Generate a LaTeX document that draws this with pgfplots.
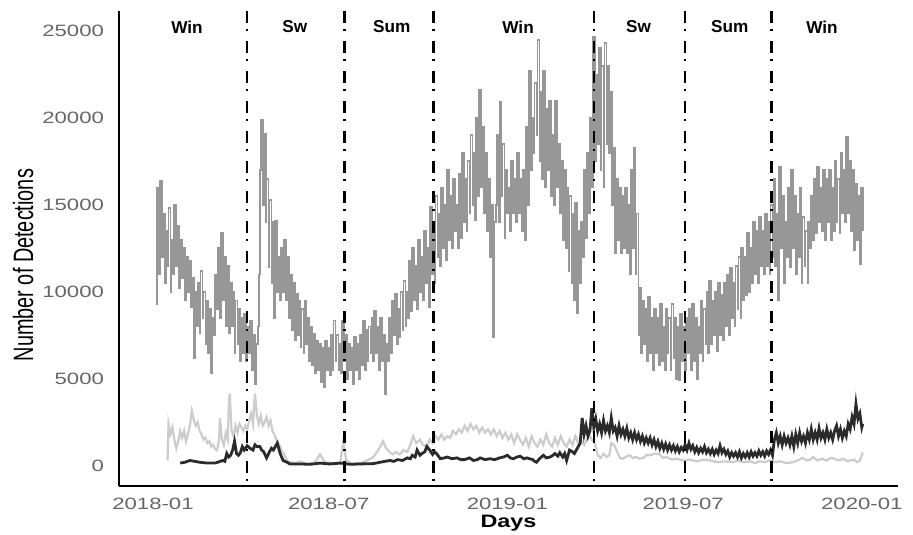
\documentclass[border=0pt]{standalone}
\usepackage{fontspec}
\setmainfont{Liberation Sans}
\newfontfamily\tickfont[FakeStretch=1.35]{Liberation Sans}
\newfontfamily\ylabfont[FakeStretch=0.71]{Liberation Sans}
\newfontfamily\xlabfont[FakeStretch=1.3]{Liberation Sans}
\usepackage{pgfplots}
\pgfplotsset{compat=1.18}
\definecolor{mygray}{HTML}{979797}
\definecolor{mylight}{HTML}{CCCCCC}
\definecolor{mydark}{HTML}{2B2B2B}
\definecolor{ticktext}{HTML}{666666}
\begin{document}
\begin{tikzpicture}
\useasboundingbox (-59.5pt,-24pt) rectangle (397pt,243pt);
\begin{axis}[
 scale only axis, width=389.5pt, height=237.5pt,
 xmin=-35, xmax=767.3, ymin=-1167, ymax=26150,
 axis x line=bottom, axis y line=left,
 axis line style={-, line width=1pt, black},
 major tick length=0pt,
 xtick={0,181,365,546,730}, xticklabels={2018-01,2018-07,2019-01,2019-07,2020-01},
 ytick={0,5000,10000,15000,20000,25000}, yticklabels={0,5000,10000,15000,20000,25000},
 /pgf/number format/assume math mode=true,
 ticklabel style={font=\tickfont\fontsize{8.2}{9}\selectfont, text=ticktext},
 xticklabel style={yshift=-2.5pt},
 yticklabel style={xshift=-4pt},
 xlabel={Days}, ylabel={Number of Detections},
 xlabel style={font=\xlabfont\bfseries\fontsize{9}{10}\selectfont, at={([yshift=-18.5pt]axis description cs:0.5,0)}, anchor=center},
 ylabel style={font=\ylabfont\fontsize{14}{15}\selectfont, at={([xshift=-48pt]axis description cs:0,0.465)}, anchor=center},
 clip=false,
]
\addplot[const plot, color=mygray, line width=0.9pt] coordinates {
(3,9300)(4,16000)(6,11000)(7,16400)(9,12000)(10,14500)(12,10500)(13,13500)(15,11500)(16,14800)(18,10000)(19,13000)(21,11000)(22,15000)(24,11500)(25,13800)(27,10200)(28,13000)(30,10800)(31,12500)(33,9500)(34,12000)(36,10000)(37,11800)(39,9100)(40,10800)(42,6200)(43,10000)(45,8000)(46,10500)(48,7600)(49,11200)(51,8500)(52,10000)(54,7000)(55,9500)(57,6500)(58,9000)(60,5300)(61,8500)(63,7500)(64,11000)(66,9000)(67,12500)(69,8500)(70,13400)(72,9500)(73,12000)(75,8000)(76,11500)(78,7600)(79,10500)(81,8000)(82,10000)(84,6500)(85,9500)(87,7000)(88,9000)(90,6000)(91,8500)(93,6500)(94,8750)(96,6000)(97,8000)(99,6500)(100,8350)(102,5500)(103,7500)(105,4700)(106,7000)(108,8000)(109,11000)(110,17000)(111,19900)(113,15000)(114,19100)(116,14000)(117,16500)(119,11400)(120,15300)(122,10500)(123,14000)(125,8500)(126,14100)(128,10000)(129,12000)(131,9500)(132,12500)(134,10000)(135,13000)(137,9500)(138,12000)(140,8500)(141,11000)(143,7800)(144,10500)(146,7200)(147,9900)(149,7500)(150,9500)(152,6800)(153,9000)(155,6450)(156,9500)(158,7000)(159,8500)(161,6000)(162,8000)(164,5800)(165,7600)(167,5300)(168,7200)(170,5500)(171,7000)(173,4800)(174,6800)(176,4500)(177,7200)(179,5500)(180,6800)(182,5200)(183,7500)(185,5500)(186,8350)(188,6000)(189,7500)(191,5500)(192,7000)(194,5300)(195,8350)(197,6000)(198,7500)(200,5000)(201,7000)(203,5500)(204,6800)(206,4700)(207,7400)(209,5500)(210,7000)(212,5000)(213,7500)(215,5800)(216,8350)(218,5500)(219,7800)(221,6000)(222,8000)(224,6500)(225,8500)(227,6000)(228,8900)(230,6500)(231,8000)(233,5500)(234,8500)(236,6000)(237,7500)(239,4100)(240,7000)(242,6000)(243,8500)(245,6450)(246,9500)(248,7500)(249,9900)(251,7000)(252,9000)(254,7400)(255,10000)(257,7800)(258,10600)(260,8000)(261,10000)(263,8500)(264,11800)(266,8900)(267,12500)(269,9500)(270,11500)(272,9000)(273,13000)(275,10000)(276,12000)(278,9500)(279,13500)(281,10500)(282,12500)(284,9100)(285,14900)(287,11000)(288,13500)(290,10500)(291,15500)(293,12000)(294,14500)(296,11500)(297,16000)(299,12500)(300,15000)(302,11800)(303,17000)(305,13000)(306,15500)(308,12500)(309,16500)(311,13500)(312,15000)(314,12500)(315,16800)(317,13100)(318,18000)(320,14000)(321,16500)(323,13500)(324,17500)(326,14500)(327,19000)(329,15000)(330,18000)(332,14100)(333,20000)(335,15500)(336,21600)(338,16000)(339,19500)(341,14500)(342,18000)(344,13500)(345,16500)(347,12000)(348,15000)(350,7400)(351,14000)(353,15000)(354,19000)(356,14000)(357,20900)(359,15500)(360,18500)(362,13100)(363,17000)(365,14500)(366,16000)(368,13500)(369,17500)(371,14500)(372,16500)(374,14000)(375,18000)(377,14500)(378,16500)(380,13500)(381,17000)(383,13000)(384,19500)(386,15000)(387,22700)(389,17000)(390,20000)(392,18000)(393,22000)(395,19000)(396,24500)(398,17500)(399,21500)(401,16500)(402,22700)(404,16000)(405,20500)(407,17000)(408,21000)(410,15500)(411,19000)(413,15000)(414,21000)(416,16000)(417,18500)(419,14500)(420,17500)(422,13000)(423,17000)(425,12500)(426,16000)(428,11200)(429,15500)(431,10500)(432,14500)(434,9500)(435,15100)(437,8750)(438,13500)(440,10500)(441,14000)(443,12000)(444,17000)(446,13100)(447,18000)(449,14500)(450,20000)(452,16000)(453,24650)(455,17500)(456,22500)(458,18500)(459,24000)(461,17000)(462,23000)(464,16000)(465,24300)(467,18500)(468,23000)(470,18000)(471,21500)(473,15000)(474,18300)(476,12200)(477,16500)(479,13000)(480,16000)(482,12200)(483,15500)(485,12500)(486,16000)(488,12200)(489,15000)(491,11000)(492,17000)(494,12500)(495,18300)(497,11000)(498,14500)(500,7500)(501,10200)(503,6500)(504,9500)(506,7000)(507,9000)(509,6000)(510,9700)(512,6500)(513,8500)(515,5500)(516,9000)(518,6500)(519,8500)(521,5800)(522,9300)(524,6000)(525,8000)(527,5500)(528,9000)(530,6500)(531,8500)(533,5500)(534,9300)(536,6200)(537,8500)(539,5000)(540,8000)(542,4900)(543,8750)(545,6000)(546,8000)(548,5500)(549,8500)(551,6500)(552,9000)(554,5500)(555,9300)(557,6000)(558,8500)(560,5000)(561,8000)(563,6500)(564,9500)(566,6000)(567,9000)(569,7000)(570,10000)(572,6450)(573,10600)(575,7000)(576,9500)(578,7500)(579,10000)(581,6600)(582,10500)(584,7500)(585,9800)(587,7200)(588,10500)(590,8000)(591,11000)(593,7500)(594,11400)(596,8500)(597,10500)(599,8000)(600,11500)(602,9000)(603,12000)(605,8500)(606,12500)(608,9500)(609,12000)(611,9800)(612,13400)(614,10000)(615,12500)(617,10500)(618,14000)(620,11000)(621,13500)(623,10500)(624,14300)(626,11500)(627,13500)(629,11000)(630,14500)(632,11500)(633,14000)(635,11000)(636,15000)(638,12000)(639,16500)(641,11500)(642,14500)(644,9500)(645,17200)(647,12500)(648,15500)(650,10500)(651,14000)(653,12000)(654,16000)(656,11400)(657,17000)(659,12500)(660,15500)(662,11000)(663,14500)(665,12000)(666,16000)(668,10500)(669,14300)(671,11500)(672,13500)(674,10500)(675,14000)(677,12500)(678,15500)(680,13000)(681,16500)(683,13400)(684,17200)(686,14000)(687,16000)(689,13500)(690,17000)(692,13000)(693,16500)(695,14000)(696,17000)(698,13000)(699,16000)(701,13500)(702,17500)(704,14000)(705,16500)(707,13400)(708,18000)(710,14500)(711,17000)(713,14000)(714,18900)(716,14500)(717,17500)(719,13500)(720,17000)(722,12400)(723,16200)(725,13000)(726,15500)(728,11600)(729,16000)(731,13500)
};
\addplot[color=mylight, line width=1.1pt] coordinates {
(15,300)(16,2400)(18,1800)(20,2200)(22,1500)(24,1000)(26,1400)(28,2000)(30,1600)(32,2000)(34,1400)(36,1800)(38,2300)(40,3150)(42,2600)(44,2300)(46,2500)(48,2000)(50,1800)(52,1500)(54,1600)(56,1300)(58,1400)(60,1100)(62,1200)(64,950)(66,900)(68,1500)(69,2750)(71,1500)(73,1200)(75,1900)(77,1500)(78,3300)(79,4150)(81,2000)(83,1700)(85,2300)(87,1900)(89,2400)(91,2200)(93,2000)(95,2300)(97,2100)(99,2600)(101,3000)(103,2400)(105,4150)(107,2900)(109,2400)(111,2900)(113,2300)(115,2500)(117,2800)(119,2300)(121,2600)(123,2000)(125,1800)(127,1500)(129,1300)(131,1100)(133,800)(135,700)(137,400)(139,250)(146,150)(152,250)(159,100)(167,200)(172,650)(177,200)(187,150)(193,200)(196,1400)(199,300)(206,100)(216,200)(222,350)(227,500)(232,900)(235,1200)(237,1400)(240,1000)(242,900)(245,700)(247,650)(250,800)(254,650)(258,900)(262,800)(265,1200)(268,1700)(271,1300)(275,1500)(278,1200)(282,1100)(285,1500)(288,1300)(291,1700)(294,1500)(297,1800)(300,1500)(303,1700)(306,1600)(309,2000)(312,1800)(315,2100)(318,1900)(321,2300)(324,2000)(327,2400)(330,2100)(333,2300)(336,1900)(339,2200)(342,1900)(345,2100)(348,1800)(351,2100)(354,1700)(357,2000)(360,1600)(363,1900)(366,1500)(369,1800)(372,1300)(375,1800)(378,1500)(381,1200)(384,1600)(387,1100)(390,1700)(393,1300)(396,1100)(399,1500)(402,1200)(405,1800)(408,1300)(411,1100)(414,1600)(417,1200)(420,1700)(423,1300)(426,1100)(429,1500)(432,1200)(435,1700)(438,1300)(441,1400)(444,1200)(447,1500)(450,1700)(452,1500)(455,1300)(458,600)(461,450)(464,700)(467,500)(470,600)(472,1300)(475,1200)(478,800)(481,450)(484,400)(488,550)(491,600)(494,450)(498,500)(501,400)(505,450)(508,600)(512,600)(517,700)(522,650)(525,450)(529,500)(534,350)(540,400)(546,300)(553,350)(560,250)(567,350)(574,300)(581,200)(589,250)(597,200)(603,300)(608,200)(615,250)(620,150)(625,250)(630,200)(635,300)(640,200)(646,250)(652,150)(659,200)(664,300)(669,450)(673,300)(677,350)(680,500)(684,300)(689,400)(694,300)(698,450)(702,400)(706,300)(711,400)(715,250)(718,300)(722,350)(725,200)(728,300)(731,750)
};
\addplot[color=mydark, line width=1.4pt] coordinates {
(28,150)(33,200)(38,300)(43,250)(48,200)(56,150)(64,150)(72,300)(74,250)(76,700)(78,500)(80,600)(82,900)(84,1400)(86,700)(88,600)(90,750)(92,1100)(94,900)(97,1150)(100,1000)(103,900)(105,1200)(107,1100)(110,1100)(112,900)(114,800)(117,450)(120,800)(122,1000)(124,900)(126,1100)(128,1300)(131,700)(134,300)(138,200)(141,100)(151,100)(162,80)(172,150)(182,100)(193,150)(203,80)(213,100)(227,120)(234,200)(239,250)(244,300)(248,250)(252,350)(257,300)(262,450)(265,400)(267,600)(270,500)(272,900)(275,600)(277,700)(280,800)(282,1100)(285,900)(288,650)(290,800)(292,700)(296,400)(300,450)(303,500)(308,400)(313,450)(317,350)(321,350)(326,450)(330,300)(334,350)(337,450)(342,350)(347,400)(352,350)(357,450)(361,500)(365,600)(368,450)(371,400)(375,500)(378,550)(382,400)(385,450)(388,400)(391,350)(393,250)(395,200)(398,400)(402,600)(405,450)(409,500)(412,600)(414,700)(417,550)(419,750)(422,500)(424,700)(426,300)(429,900)(432,800)(434,700)(437,1000)
(440,1300)(442,2750)(444,1800)(446,2300)(448,1700)(450,2000)(452,3300)(454,2200)(456,2700)(458,2000)(460,2400)(462,1900)(464,2600)(466,2000)(468,2300)(470,1900)(472,2750)(474,2000)(476,2200)(478,1700)(480,2300)(482,1800)(484,2100)(486,1700)(488,2150)(490,1600)(492,1900)(494,1500)(496,1900)(498,1500)(500,1800)(502,1400)(504,1700)(506,1300)(508,1600)(510,1300)(512,1600)(514,1200)(516,1500)(518,1100)(520,1400)(522,1000)(524,1300)(526,950)(528,1250)(530,900)(532,1200)(534,900)(536,1150)(538,850)(540,1100)(542,800)(544,1050)(546,900)(548,1200)(550,900)(552,1300)(554,950)(556,1150)(558,800)(560,1050)(562,750)(564,1000)(566,800)(568,1100)(570,750)(572,950)(574,700)(576,950)(578,650)(580,900)(582,700)(584,1150)(586,750)(588,950)(590,650)(592,850)(594,500)(596,750)(598,550)(600,750)(602,500)(604,800)(606,450)(608,700)(610,500)(612,750)(614,500)(616,800)(618,550)(620,750)(622,550)(624,850)(626,600)(628,800)(630,550)(632,850)(634,650)(636,900)(638,600)(640,1500)(642,1900)(644,1300)(646,1700)(648,1200)(650,1700)(652,1300)(654,1600)(656,1200)(658,1700)(660,1100)(662,1800)(664,1300)(666,1900)(668,1400)(670,1700)(672,1300)(674,1900)(676,1500)(678,2100)(680,1500)(682,1900)(684,1500)(686,2150)(688,1600)(690,1900)(692,1500)(694,2100)(696,1600)(698,1900)(700,1500)(702,2000)(704,2300)(706,1700)(708,2100)(710,1600)(712,2000)(714,1700)(716,2400)(718,2100)(720,2800)(722,2400)(724,3550)(726,2700)(728,3000)(730,2200)(731,2400)
};
\foreach \d in {97,197,289,454,548,637}{
 \edef\temp{\noexpand\draw[black, line width=1.3pt, dash pattern=on 6pt off 3pt on 1pt off 5pt] (axis cs:\d,26150) -- (axis cs:\d,-1167);}
 \temp
}
\foreach \d/\t in {35/Win,146/Sw,246/Sum,376/Win,500/Sw,594/Sum,689/Win}{
 \edef\temp{\noexpand\node[font=\noexpand\bfseries\noexpand\fontsize{8.6}{9}\noexpand\selectfont] at (axis cs:\d,25230) {\t};}
 \temp
}
\end{axis}
\end{tikzpicture}
\end{document}
